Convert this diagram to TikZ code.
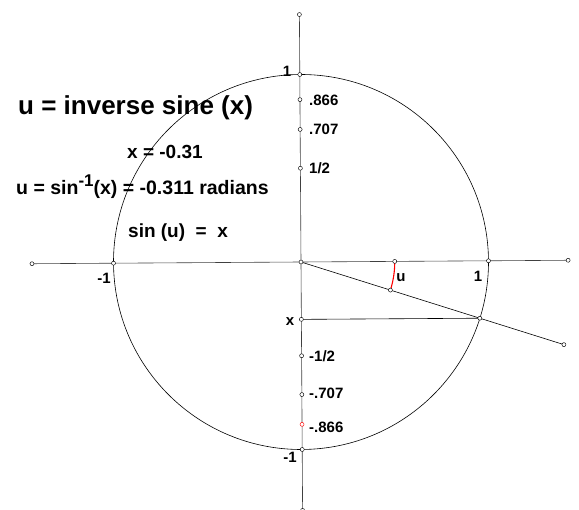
\documentclass[tikz,border=0pt]{standalone}
\usepackage{fontspec}
\setmainfont{Liberation Sans}
\begin{document}
\begin{tikzpicture}[x=1pt,y=-1pt,
  axisline/.style={draw=black!75,line width=0.6pt},
  circline/.style={draw=black,line width=0.6pt},
  pt/.style={circle,draw=black,fill=white,line width=0.45pt,inner sep=0pt,minimum size=4pt},
  redpt/.style={pt,draw=red},
  lbl/.style={font=\bfseries\fontsize{15}{17}\selectfont,inner sep=0pt},
  mid/.style={font=\bfseries\fontsize{19}{22}\selectfont,inner sep=0pt,anchor=base west},
  big/.style={font=\bfseries\fontsize{26}{30}\selectfont,inner sep=0pt,anchor=base west}]
\useasboundingbox (0,0) rectangle (579,510);
\begin{scope}[shift={(301,262)},rotate=0.37,x=187.5pt,y=187.5pt]
  \coordinate (O) at (0,0);
  \coordinate (Hl) at (-1.435,0);
  \coordinate (Hr) at (1.425,0);
  \coordinate (Vt) at (0,1.32);
  \coordinate (Vb) at (0,-1.325);
  \coordinate (P) at (-17.82:1);
  \coordinate (R) at (-17.82:1.47);
  \coordinate (X) at (0,-0.306);
  \coordinate (U1) at (0.5,0);
  \coordinate (U2) at (-17.82:0.5);
  \draw[axisline] (Hl) -- (Hr);
  \draw[axisline] (Vb) -- (Vt);
  \draw[circline] (O) circle[radius=1];
  \draw[circline] (O) -- (R);
  \draw[circline] (X) -- (P);
  \draw[red,line width=1.1pt] (U1) arc[start angle=0,end angle=-17.82,radius=0.5];
  \node[pt] (nO) at (O) {};
  \node[pt] (nHl) at (Hl) {};
  \node[pt] (nHr) at (Hr) {};
  \node[pt] (nVt) at (Vt) {};
  \node[pt] (nVb) at (Vb) {};
  \node[pt] (nA) at (1,0) {};
  \node[pt] (nAm) at (-1,0) {};
  \node[pt] (nB) at (0,1) {};
  \node[pt] (nBm) at (0,-1) {};
  \node[pt] (t1) at (0,0.866) {};
  \node[pt] (t2) at (0,0.707) {};
  \node[pt] (t3) at (0,0.5) {};
  \node[pt] (t4) at (0,-0.5) {};
  \node[pt] (t5) at (0,-0.707) {};
  \node[redpt] (t6) at (0,-0.866) {};
  \node[pt] (nX) at (X) {};
  \node[pt] (nP) at (P) {};
  \node[pt] (nR) at (R) {};
  \node[pt] (nU1) at (U1) {};
  \node[pt] (nU2) at (U2) {};
\end{scope}
% labels
\node[lbl] (l1) at (287,71) {1};
\node[lbl] (lm1) at (104,278) {-1};
\node[lbl] (lr1) at (478,276) {1};
\node[lbl] (lbm1) at (290,457) {-1};
\node[lbl,anchor=west] (l866) at (309,100) {.866};
\node[lbl,anchor=west] (l707) at (309,129) {.707};
\node[lbl,anchor=west] (l12) at (309,168) {1/2};
\node[lbl,anchor=west] (lm12) at (309,356) {-1/2};
\node[lbl,anchor=west] (lm707) at (309,393) {-.707};
\node[lbl,anchor=west] (lm866) at (309,427) {-.866};
\node[lbl] (lx) at (290,322) {x};
\node[lbl] (lu) at (401,278) {u};
% texts
\node[big] (title) at (18,115) {u = inverse sine (x)};
\node[mid] (tx) at (127,159) {x = -0.31};
\node[mid,font=\bfseries\fontsize{19.5}{22}\selectfont] (tu) at (16,195) {u = sin\raisebox{0.42em}{\fontsize{17}{17}\selectfont -1}(x) = -0.311 radians};
\node[mid] (ts) at (128,238) {sin (u) \ = \ x};
\end{tikzpicture}
\end{document}
